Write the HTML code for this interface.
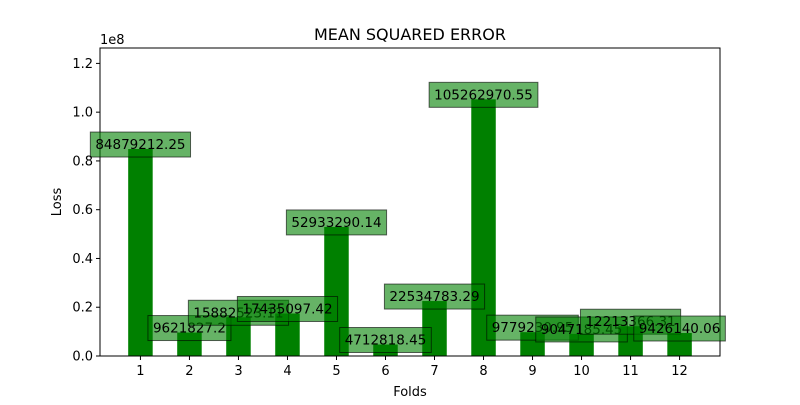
<!DOCTYPE html>
<html><head><meta charset="utf-8"><style>
body{margin:0;background:#fff;font-family:"Liberation Sans","DejaVu Sans",sans-serif;}
svg text{font-family:"DejaVu Sans","Liberation Sans",sans-serif;}
</style></head><body>
<svg id="c" width="800" height="400" xmlns="http://www.w3.org/2000/svg"></svg>
<script>
const categories=[1,2,3,4,5,6,7,8,9,10,11,12];
const values=[84879212.25,9621827.2,15882523.11,17435097.42,52933290.14,4712818.45,22534783.29,105262970.55,9779230.95,9047185.45,12213366.31,9426140.06];
const labels=["84879212.25","9621827.2","15882523.11","17435097.42","52933290.14","4712818.45","22534783.29","105262970.55","9779230.95","9047185.45","12213366.31","9426140.06"];
const yTicks=[0,0.2e8,0.4e8,0.6e8,0.8e8,1.0e8,1.2e8];
const yTickLabels=["0.0","0.2","0.4","0.6","0.8","1.0","1.2"];
const NS="http://www.w3.org/2000/svg";
const svg=document.getElementById('c');
const L=100,R=720,T=48,B=356;
const ymax=Math.max(...values)*1.2;
const xmin=0.175,xmax=12.825;
const X=v=>L+(v-xmin)/(xmax-xmin)*(R-L);
const Y=v=>B-v/ymax*(B-T);
function mk(t,a,p){const e=document.createElementNS(NS,t);for(const k in a)e.setAttribute(k,a[k]);(p||svg).appendChild(e);return e;}
const bw=X(0.5)-X(0);
categories.forEach((c,i)=>{
 const r=mk('rect',{x:X(c)-bw/2,y:Y(values[i]),width:bw,height:B-Y(values[i]),fill:'#008000'});
 
 
});
const fr=mk('rect',{x:L,y:T,width:R-L,height:B-T,fill:'none',stroke:'#000','stroke-width':1});


categories.forEach((c,i)=>{
 const g=mk('g',{});
 
 
 const t=mk('text',{x:X(c),y:Y(values[i]),'font-size':13.5,'text-anchor':'middle',fill:'#000'},g);
 t.textContent=labels[i];
 const w=t.getComputedTextLength();
 const bx=mk('rect',{x:X(c)-w/2-5,y:Y(values[i])-17,width:w+10,height:25,fill:'rgba(0,128,0,0.6)',stroke:'rgba(0,0,0,0.6)','stroke-width':1},g);
 g.insertBefore(bx,t);
});
yTicks.forEach((v,i)=>{
 mk('line',{x1:L-4,x2:L,y1:Y(v),y2:Y(v),stroke:'#000'});
 const t=mk('text',{x:L-7,y:Y(v)+4.5,'font-size':13,'text-anchor':'end'});
 t.textContent=yTickLabels[i];
 
 
});
categories.forEach(c=>{
 mk('line',{x1:X(c),x2:X(c),y1:B,y2:B+4,stroke:'#000'});
 const t=mk('text',{x:X(c),y:B+19,'font-size':13,'text-anchor':'middle'});
 t.textContent=c;
 
 
});
let e=mk('text',{x:L,y:44,'font-size':13});e.textContent='1e8';


e=mk('text',{x:410,y:40,'font-size':16,'text-anchor':'middle'});e.textContent='MEAN SQUARED ERROR';


e=mk('text',{x:410,y:396,'font-size':13,'text-anchor':'middle'});e.textContent='Folds';


e=mk('text',{x:0,y:0,'font-size':13,'text-anchor':'middle',transform:'translate(61,202) rotate(-90)'});e.textContent='Loss';


</script>
</body></html>
